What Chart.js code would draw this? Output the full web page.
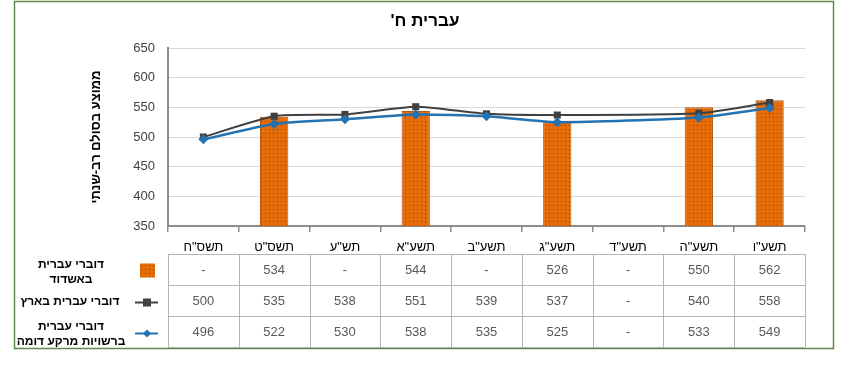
<!DOCTYPE html>
<html lang="he">
<head>
<meta charset="utf-8">
<script src="https://cdn.jsdelivr.net/npm/chart.js@4/dist/chart.umd.min.js"></script>
<style>
  html, body { margin: 0; padding: 0; background: #fff; }
</style>
</head>
<body>
<canvas id="chart" width="850" height="374"></canvas>
<script>
// categories (school years) and series values
const years = ['תשס"ח', 'תשס"ט', 'תש"ע', 'תשע"א', 'תשע"ב', 'תשע"ג', 'תשע"ד', 'תשע"ה', 'תשע"ו'];
const ashdod = [null, 534, null, 544, null, 526, null, 550, 562];
const national = [500, 535, 538, 551, 539, 537, null, 540, 558];
const similar = [496, 522, 530, 538, 535, 525, null, 533, 549];
const seriesNames = [
  ['דוברי עברית', 'באשדוד'],
  ['דוברי עברית בארץ'],
  ['דוברי עברית', 'ברשויות מרקע דומה']
];
const chartTitle = 'עברית ח\'\u200F';
const yTitle = 'ממוצע בסולם רב-שנתי';
const yMin = 350, yMax = 650, yStep = 50;

const FONT = '"Liberation Sans", Arial, "DejaVu Sans", sans-serif';
const ORANGE = '#E46C0A';
const GRAY = '#404040';
const BLUE = '#2373B3';

// dotted orange fill like the excel bars
function dotPattern() {
  const c = document.createElement('canvas');
  c.width = 4; c.height = 4;
  const g = c.getContext('2d');
  g.fillStyle = ORANGE;
  g.fillRect(0, 0, 4, 4);
  g.fillStyle = '#8a4206';
  g.fillRect(1, 1, 1, 1);
  return g.createPattern(c, 'repeat');
}
const barFill = dotPattern();

// green frame round the whole chart
const framePlugin = {
  id: 'frame',
  beforeDraw(chart) {
    const ctx = chart.ctx;
    ctx.save();
    ctx.fillStyle = '#fff';
    ctx.fillRect(0, 0, chart.width, chart.height);
    ctx.strokeStyle = '#5e8a4c';
    ctx.lineWidth = 1.5;
    ctx.strokeRect(14.5, 1.5, 819, 347);
    ctx.restore();
  }
};

// data table under the x axis, with legend keys on the left
const tablePlugin = {
  id: 'dataTable',
  afterDraw(chart) {
    const ctx = chart.ctx;
    const xs = chart.scales.x;
    const area = chart.chartArea;
    const n = years.length;
    const colW = (area.right - area.left) / n;
    const top = 254, rowH = 31;
    const rows = [ashdod, national, similar];

    ctx.save();
    ctx.strokeStyle = '#b4b4b4';
    ctx.lineWidth = 1;
    ctx.beginPath();
    for (let r = 0; r <= rows.length; r++) {
      const y = top + r * rowH + 0.5;
      ctx.moveTo(area.left, y);
      ctx.lineTo(area.right, y);
    }
    for (let c = 0; c <= n; c++) {
      const x = Math.round(area.left + c * colW) + 0.5;
      ctx.moveTo(x, top);
      ctx.lineTo(x, top + rows.length * rowH);
    }
    ctx.stroke();

    // cell values
    ctx.font = '13px ' + FONT;
    ctx.fillStyle = '#595959';
    ctx.textAlign = 'center';
    ctx.textBaseline = 'middle';
    rows.forEach((vals, r) => {
      vals.forEach((v, c) => {
        ctx.fillText(v == null ? '-' : String(v), xs.getPixelForValue(c), top + r * rowH + rowH / 2 + 1);
      });
    });

    // series names
    ctx.font = 'bold 12px ' + FONT;
    ctx.fillStyle = '#000';
    seriesNames.forEach((lines, r) => {
      const cy = top + r * rowH + rowH / 2;
      if (lines.length === 1) {
        ctx.fillText(lines[0], 70, cy + 1);
      } else {
        ctx.fillText(lines[0], 71, cy - 5);
        ctx.fillText(lines[1], 71, cy + 10);
      }
    });

    // legend keys
    const kx = 147;
    let cy = top + rowH / 2;
    ctx.fillStyle = barFill;
    ctx.fillRect(kx - 7, cy - 6, 15, 14);

    cy = top + rowH * 1.5 + 2;
    ctx.strokeStyle = GRAY;
    ctx.lineWidth = 2;
    ctx.beginPath();
    ctx.moveTo(kx - 12, cy); ctx.lineTo(kx + 11, cy);
    ctx.stroke();
    ctx.fillStyle = GRAY;
    ctx.fillRect(kx - 4, cy - 4, 8, 8);

    cy = top + rowH * 2.5 + 2;
    ctx.strokeStyle = BLUE;
    ctx.beginPath();
    ctx.moveTo(kx - 12, cy); ctx.lineTo(kx + 11, cy);
    ctx.stroke();
    ctx.fillStyle = BLUE;
    ctx.beginPath();
    ctx.moveTo(kx, cy - 4); ctx.lineTo(kx + 4, cy); ctx.lineTo(kx, cy + 4); ctx.lineTo(kx - 4, cy);
    ctx.closePath();
    ctx.fill();
    ctx.restore();
  }
};

new Chart(document.getElementById('chart'), {
  type: 'bar',
  data: {
    labels: years,
    datasets: [
      {
        type: 'line',
        label: seriesNames[2].join(' '),
        data: similar,
        borderColor: BLUE,
        backgroundColor: BLUE,
        borderWidth: 2.5,
        pointStyle: 'rectRot',
        pointRadius: 5,
        pointBorderWidth: 0,
        tension: 0.2,
        spanGaps: true,
        order: 1
      },
      {
        type: 'line',
        label: seriesNames[1].join(' '),
        data: national,
        borderColor: GRAY,
        backgroundColor: GRAY,
        borderWidth: 2,
        pointStyle: 'rect',
        pointRadius: 5,
        pointBorderWidth: 0,
        tension: 0.2,
        spanGaps: true,
        order: 2
      },
      {
        label: seriesNames[0].join(' '),
        data: ashdod,
        backgroundColor: barFill,
        borderColor: '#b85a10',
        borderWidth: 1,
        borderSkipped: 'bottom',
        barPercentage: 0.4,
        categoryPercentage: 1,
        order: 3
      }
    ]
  },
  options: {
    responsive: false,
    animation: false,
    devicePixelRatio: 1,
    layout: { padding: { left: 45, right: 45, top: 0, bottom: 118 } },
    plugins: {
      legend: { display: false },
      tooltip: { enabled: false },
      title: {
        display: true,
        text: chartTitle,
        color: '#000',
        font: { family: FONT, size: 17, weight: 'bold' },
        padding: { top: 11, bottom: 16.6 }
      }
    },
    scales: {
      x: {
        offset: true,
        grid: {
          offset: true,
          drawOnChartArea: false,
          drawTicks: true,
          tickLength: 6,
          color: '#8c8c8c',
          lineWidth: 1.5
        },
        border: { display: true, color: '#8c8c8c', width: 2 },
        ticks: {
          color: '#000',
          padding: 8,
          maxRotation: 0,
          autoSkip: false,
          font: { family: FONT, size: 13 }
        },
        afterFit(scale) { scale.height = 30; }
      },
      y: {
        min: yMin,
        max: yMax,
        ticks: {
          stepSize: yStep,
          color: '#404040',
          padding: 13,
          font: { family: FONT, size: 13 }
        },
        grid: { color: '#d9d9d9', lineWidth: 1, drawTicks: false },
        border: { display: true, color: '#8c8c8c', width: 2 },
        title: {
          display: true,
          text: yTitle,
          color: '#000',
          font: { family: FONT, size: 13, weight: 'bold' },
          padding: { top: 44, bottom: 0 }
        },
        afterFit(scale) { scale.width = 123; }
      }
    }
  },
  plugins: [framePlugin, tablePlugin]
});
</script>
</body>
</html>
